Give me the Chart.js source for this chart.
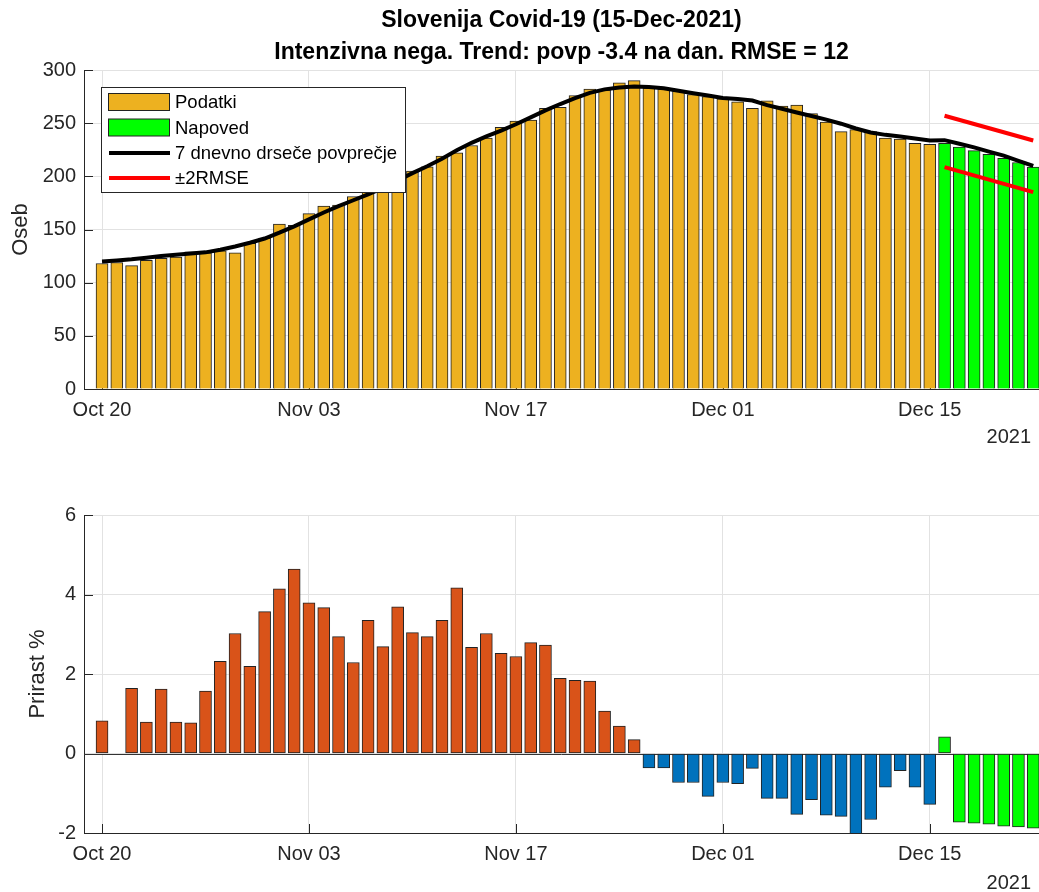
<!DOCTYPE html>
<html><head><meta charset="utf-8">
<script src="https://cdn.jsdelivr.net/npm/chart.js@4.4.1/dist/chart.umd.min.js"></script>
<style>
html,body{margin:0;padding:0;background:#fff;}
#wrap{position:relative;width:1039px;height:892px;overflow:hidden;background:#fff;}
.box{position:absolute;left:0;width:1039px;}
</style></head><body>
<div id="wrap">
  <div class="box" style="top:0;height:450px"><canvas id="top" width="1039" height="450"></canvas></div>
  <div class="box" style="top:450px;height:442px"><canvas id="bot" width="1039" height="442"></canvas></div>
</div>
<script>
// ---------- DATA ----------
const startDate = 'Oct 20';           // day index 0
const tickDays = [0, 14, 28, 42, 56];
const tickLabels = ['Oct 20', 'Nov 03', 'Nov 17', 'Dec 01', 'Dec 15'];
const yearLabel = '2021';
const titleLines = ['Slovenija Covid-19 (15-Dec-2021)', 'Intenzivna nega. Trend: povp -3.4 na dan. RMSE = 12'];

// Intensive care patients, Oct 20 .. Dec 15
const icuPatients = [118,119,116,121,123,124,129,128,130,128,137,142,155,154,165,172,173,181,187,192,199,
  205,209,219,222,229,236,246,252,253,264,265,276,282,281,288,290,283,282,280,277,275,273,270,264,271,266,267,
  259,251,242,244,242,236,235,231,230];
// Forecast Dec 16 .. Dec 22
const forecast = [231,227.4,224.2,220.8,217,213,208.6];
// 7-day moving average Oct 20 .. Dec 22
const movingAvg = [120,120.9,122,123.5,125,126.2,127.5,128.5,131,134,137.5,141.5,147,153,159.5,166,172,177.5,183,189,196,
  203,209.5,216.5,224.5,231.5,237.5,243,249,255.5,262,268,273.5,278.5,281.8,283.6,284.4,284,282.8,280.5,278.2,276,
  273.6,272.7,271.3,267,263.5,260,256.8,253.3,249.5,245,241.2,239,237.5,235.5,233.7,234,230.6,227.2,223.2,219.5,214.6,209.9];
// ±2RMSE band endpoints (Dec 16 and Dec 22)
const rmseDays = [57, 63];
const rmseUpper = [257, 233.7];
const rmseLower = [208.6, 185.2];
// Daily growth % (Oct 20 .. Dec 22)
const growth = [0.82,0,1.64,0.79,1.62,0.79,0.77,1.57,2.32,3.02,2.19,3.57,4.14,4.64,3.79,3.67,2.94,2.29,3.35,2.69,3.69,
  3.04,2.94,3.35,4.17,2.67,3.02,2.52,2.44,2.79,2.73,1.89,1.84,1.82,1.07,0.69,0.35,-0.36,-0.36,-0.73,-0.73,-1.08,
  -0.73,-0.76,-0.375,-1.13,-1.13,-1.53,-1.16,-1.55,-1.58,-2.02,-1.66,-0.85,-0.43,-0.85,-1.28,
  0.42,-1.73,-1.75,-1.78,-1.83,-1.85,-1.88];

// ---------- STYLE ----------
const FONT = "'Liberation Sans', Arial, Helvetica, sans-serif";
const TXT = '#262626';
const GRID = '#e2e2e2';
const C_DATA = '#EDB120', C_FC = '#00FF00', C_UP = '#D95319', C_DOWN = '#0072BD';
const EDGE = '#222222';
const X_MIN = -1.22, X_MAX = 63.39;
Chart.defaults.font.family = FONT;
Chart.defaults.color = TXT;

const pts = (arr, off) => arr.map((v, i) => ({x: i + (off || 0), y: v}));

function xScale(h) {
  return {
    type: 'linear', min: X_MIN, max: X_MAX, offset: false,
    afterBuildTicks: s => { s.ticks = tickDays.map(v => ({value: v})); },
    afterFit: s => { s.height = h; },
    ticks: {autoSkip: false, maxRotation: 0, padding: 9, color: TXT, font: {size: 20},
      callback: (v, i) => tickLabels[i]},
    grid: {color: GRID, drawTicks: false, offset: false, lineWidth: 1},
    border: {display: true, color: TXT, width: 1}
  };
}
function yScale(min, max, step, title, titlePad) {
  return {
    min: min, max: max,
    afterFit: s => { s.width = 84; },
    ticks: {stepSize: step, padding: 8, color: TXT, font: {size: 20}},
    grid: {color: GRID, drawTicks: false, lineWidth: 1},
    border: {display: true, color: TXT, width: 1},
    title: {display: true, text: title, color: TXT, font: {size: 22}, padding: {top: titlePad, bottom: 0}}
  };
}

// inward ticks + baseline + year
function decorPlugin(opts) {
  return {
    id: 'decor' + opts.name,
    beforeDatasetsDraw(chart) {
      const {ctx, chartArea: a, scales: {x, y}} = chart;
      ctx.save();
      ctx.strokeStyle = TXT; ctx.lineWidth = 1;
      y.ticks.forEach(t => {
        const py = Math.round(y.getPixelForValue(t.value)) + 0.5;
        ctx.beginPath(); ctx.moveTo(a.left, py); ctx.lineTo(a.left + 9, py); ctx.stroke();
      });
      x.ticks.forEach(t => {
        const px = Math.round(x.getPixelForValue(t.value)) + 0.5;
        ctx.beginPath(); ctx.moveTo(px, a.bottom); ctx.lineTo(px, a.bottom - 9); ctx.stroke();
      });
      if (opts.baseline) {
        const py = Math.round(y.getPixelForValue(0)) + 0.5;
        ctx.strokeStyle = '#333';
        ctx.beginPath(); ctx.moveTo(a.left, py); ctx.lineTo(a.right, py); ctx.stroke();
      }
      ctx.restore();
    },
    afterDraw(chart) {
      const {ctx, chartArea: a} = chart;
      ctx.save();
      ctx.fillStyle = TXT; ctx.font = '20px ' + FONT;
      ctx.textAlign = 'right'; ctx.textBaseline = 'middle';
      ctx.fillText(yearLabel, 1031, opts.yearY);
      if (opts.title) {
        ctx.fillStyle = '#000'; ctx.font = 'bold 23px ' + FONT; ctx.textAlign = 'center';
        const cx = (a.left + a.right) / 2;
        ctx.fillText(titleLines[0], cx, 21);
        ctx.fillText(titleLines[1], cx, 53);
      }
      if (opts.legend) {
        const ds = chart.data.datasets;
        const L = 101.5, T = 87.5, W = 304, H = 105;
        ctx.fillStyle = '#fff'; ctx.fillRect(L, T, W, H);
        ctx.strokeStyle = TXT; ctx.lineWidth = 1; ctx.strokeRect(L, T, W, H);
        const rows = [102, 127.5, 153, 178];
        ctx.font = '18.5px ' + FONT; ctx.textAlign = 'left'; ctx.textBaseline = 'middle';
        for (let i = 0; i < 4; i++) {
          const d = ds[i], cy = rows[i];
          if (d.type === 'bar') {
            ctx.fillStyle = d.backgroundColor; ctx.fillRect(108.5, cy - 8.5, 61, 17);
            ctx.strokeStyle = EDGE; ctx.strokeRect(108.5, cy - 8.5, 61, 17);
          } else {
            ctx.strokeStyle = d.borderColor; ctx.lineWidth = 4;
            ctx.beginPath(); ctx.moveTo(109, cy); ctx.lineTo(170, cy); ctx.stroke();
            ctx.lineWidth = 1;
          }
          ctx.fillStyle = '#000';
          ctx.fillText(d.label, 175, cy + 1);
        }
      }
      ctx.restore();
    }
  };
}

// ---------- TOP CHART ----------
new Chart(document.getElementById('top'), {
  type: 'bar',
  data: {
    datasets: [
      {type: 'bar', label: 'Podatki', data: pts(icuPatients), backgroundColor: C_DATA, borderColor: EDGE,
        borderWidth: 1, barThickness: 12, grouped: false, order: 5},
      {type: 'bar', label: 'Napoved', data: pts(forecast, icuPatients.length), backgroundColor: C_FC, borderColor: EDGE,
        borderWidth: 1, barThickness: 12, grouped: false, order: 5},
      {type: 'line', label: '7 dnevno drseče povprečje', data: pts(movingAvg), borderColor: '#000', borderWidth: 4,
        pointRadius: 0, tension: 0, order: 1},
      {type: 'line', label: '±2RMSE', data: rmseDays.map((d, i) => ({x: d, y: rmseUpper[i]})), borderColor: '#FF0000',
        borderWidth: 4, pointRadius: 0, order: 2},
      {type: 'line', label: '', data: rmseDays.map((d, i) => ({x: d, y: rmseLower[i]})), borderColor: '#FF0000',
        borderWidth: 4, pointRadius: 0, order: 2}
    ]
  },
  options: {
    responsive: false, animation: false,
    layout: {padding: {top: 70, right: 0, bottom: 0, left: 0}},
    plugins: {legend: {display: false}, tooltip: {enabled: false}, title: {display: false}},
    scales: {x: xScale(61), y: yScale(0, 300, 50, 'Oseb', 8)}
  },
  plugins: [decorPlugin({name: 'top', yearY: 437, title: true, legend: true})]
});

// ---------- BOTTOM CHART ----------
const nData = icuPatients.length;
new Chart(document.getElementById('bot'), {
  type: 'bar',
  data: {
    datasets: [
      {type: 'bar', label: 'Prirast', data: pts(growth),
        backgroundColor: growth.map((v, i) => i >= nData ? C_FC : (v >= 0 ? C_UP : C_DOWN)),
        borderColor: EDGE, borderWidth: 1, barThickness: 12, grouped: false, borderSkipped: false}
    ]
  },
  options: {
    responsive: false, animation: false,
    layout: {padding: {top: 65, right: 0, bottom: 0, left: 0}},
    plugins: {legend: {display: false}, tooltip: {enabled: false}},
    scales: {x: xScale(59), y: yScale(-2, 6, 2, 'Prirast %', 25)}
  },
  plugins: [decorPlugin({name: 'bot', yearY: 433, baseline: true})]
});
</script>
</body></html>
